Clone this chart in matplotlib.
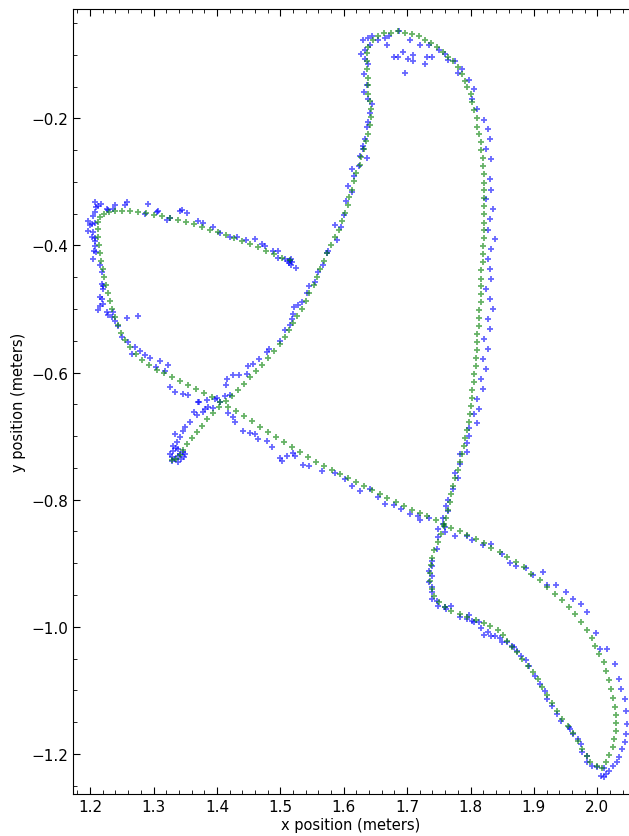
import matplotlib
matplotlib.use("Agg")
import matplotlib.pyplot as plt
from matplotlib.ticker import MultipleLocator

# filtered track (green)
arm_x = [1.515, 1.502, 1.490, 1.477, 1.465, 1.452, 1.439, 1.427, 1.414, 1.402,
         1.389, 1.376, 1.364, 1.351, 1.339, 1.326, 1.313, 1.301, 1.288, 1.276,
         1.263, 1.250, 1.239, 1.230, 1.222, 1.216]
arm_y = [-0.423, -0.419, -0.413, -0.408, -0.403, -0.398, -0.393, -0.388, -0.383, -0.379,
         -0.375, -0.371, -0.367, -0.363, -0.360, -0.357, -0.354, -0.352, -0.349, -0.348,
         -0.346, -0.346, -0.346, -0.348, -0.351, -0.356]

left_x = [1.213, 1.213, 1.213, 1.214, 1.216, 1.217, 1.220, 1.222, 1.225, 1.228,
          1.232, 1.235, 1.239, 1.244, 1.249, 1.255, 1.263, 1.272, 1.282, 1.293, 1.306]
left_y = [-0.363, -0.374, -0.387, -0.400, -0.412, -0.425, -0.437, -0.450, -0.463, -0.475,
          -0.488, -0.500, -0.513, -0.525, -0.538, -0.549, -0.560, -0.571, -0.580, -0.588, -0.596]

diag_x = [1.317, 1.329, 1.342, 1.354, 1.367, 1.380, 1.392, 1.405, 1.417, 1.430,
          1.443, 1.455, 1.468, 1.480, 1.493, 1.506, 1.518, 1.531, 1.543, 1.556,
          1.569, 1.581, 1.594, 1.606, 1.619, 1.632, 1.644, 1.657, 1.669, 1.682,
          1.695, 1.707, 1.720, 1.732, 1.745, 1.758, 1.770, 1.783, 1.795, 1.808,
          1.821, 1.833, 1.846, 1.858, 1.871, 1.884, 1.896, 1.909, 1.921, 1.934,
          1.945, 1.956, 1.965, 1.975, 1.983, 1.991, 1.997, 2.003, 2.010, 2.014,
          2.019, 2.022, 2.025, 2.028, 2.030, 2.030, 2.030, 2.027, 2.024, 2.019,
          2.014, 2.008]
diag_y = [-0.601, -0.607, -0.613, -0.620, -0.626, -0.632, -0.639, -0.647, -0.654, -0.661,
          -0.669, -0.676, -0.686, -0.694, -0.702, -0.709, -0.717, -0.725, -0.733, -0.741,
          -0.747, -0.753, -0.760, -0.766, -0.772, -0.779, -0.785, -0.791, -0.797, -0.804,
          -0.810, -0.816, -0.821, -0.826, -0.832, -0.838, -0.845, -0.849, -0.856, -0.862,
          -0.868, -0.876, -0.882, -0.890, -0.898, -0.906, -0.917, -0.926, -0.937, -0.948,
          -0.958, -0.969, -0.980, -0.992, -1.005, -1.017, -1.030, -1.043, -1.055, -1.069,
          -1.083, -1.098, -1.112, -1.126, -1.138, -1.151, -1.164, -1.176, -1.189, -1.201,
          -1.212, -1.222]

back_x = [1.999, 1.989, 1.983, 1.976, 1.969, 1.961, 1.953, 1.945, 1.937, 1.929,
          1.921, 1.913, 1.906, 1.898, 1.890, 1.882, 1.874, 1.866, 1.858, 1.852,
          1.843, 1.831, 1.821, 1.808, 1.795, 1.783, 1.770, 1.759, 1.750, 1.743,
          1.739, 1.736, 1.736, 1.737, 1.740, 1.743, 1.748, 1.753, 1.758, 1.761,
          1.764, 1.767, 1.770, 1.773, 1.776, 1.780, 1.783, 1.786, 1.789, 1.792,
          1.794, 1.797, 1.799, 1.800, 1.802, 1.803, 1.805, 1.806, 1.808, 1.808,
          1.810, 1.811, 1.811, 1.813, 1.814, 1.814, 1.816, 1.816, 1.817, 1.817,
          1.817, 1.819, 1.819, 1.819, 1.821, 1.821, 1.821, 1.821, 1.821, 1.821]
back_y = [-1.219, -1.212, -1.203, -1.192, -1.179, -1.167, -1.156, -1.145, -1.132, -1.120,
          -1.107, -1.094, -1.082, -1.071, -1.061, -1.050, -1.039, -1.032, -1.022, -1.013,
          -1.005, -0.999, -0.994, -0.989, -0.984, -0.980, -0.975, -0.969, -0.961, -0.951,
          -0.940, -0.928, -0.915, -0.903, -0.892, -0.879, -0.867, -0.854, -0.841, -0.829,
          -0.816, -0.804, -0.791, -0.779, -0.766, -0.753, -0.741, -0.728, -0.716, -0.703,
          -0.690, -0.678, -0.665, -0.653, -0.640, -0.628, -0.615, -0.602, -0.590, -0.577,
          -0.565, -0.552, -0.540, -0.527, -0.514, -0.502, -0.489, -0.477, -0.464, -0.452,
          -0.439, -0.426, -0.414, -0.401, -0.389, -0.376, -0.364, -0.351, -0.338, -0.326]

top_x = [1.821, 1.821, 1.821, 1.819, 1.819, 1.817, 1.816, 1.814, 1.811, 1.810,
         1.806, 1.803, 1.800, 1.795, 1.792, 1.786, 1.780, 1.773, 1.765, 1.756,
         1.747, 1.737, 1.728, 1.718, 1.707, 1.696, 1.685, 1.674, 1.663, 1.654,
         1.646, 1.639, 1.636, 1.636, 1.636, 1.638, 1.638, 1.639, 1.641, 1.643, 1.643]
top_y = [-0.313, -0.301, -0.288, -0.275, -0.263, -0.250, -0.238, -0.225, -0.213, -0.200,
         -0.187, -0.175, -0.162, -0.151, -0.142, -0.131, -0.120, -0.110, -0.103, -0.095,
         -0.087, -0.081, -0.076, -0.071, -0.068, -0.065, -0.063, -0.065, -0.066, -0.071,
         -0.077, -0.087, -0.098, -0.110, -0.123, -0.136, -0.148, -0.161, -0.173, -0.186, -0.198]

branch_x = [1.641, 1.638, 1.635, 1.632, 1.628, 1.625, 1.620, 1.617, 1.613, 1.609,
            1.606, 1.602, 1.597, 1.592, 1.586, 1.580, 1.573, 1.569, 1.562, 1.558,
            1.553, 1.546, 1.540, 1.534, 1.526, 1.520, 1.513, 1.507, 1.499, 1.490,
            1.480, 1.471, 1.461, 1.452, 1.443, 1.433, 1.424, 1.414, 1.403, 1.394,
            1.384, 1.376, 1.369, 1.361, 1.353, 1.346, 1.342, 1.335, 1.329]
branch_y = [-0.211, -0.224, -0.236, -0.249, -0.261, -0.274, -0.286, -0.299, -0.312, -0.324,
            -0.337, -0.349, -0.362, -0.375, -0.387, -0.400, -0.412, -0.425, -0.437, -0.450,
            -0.463, -0.475, -0.488, -0.500, -0.511, -0.522, -0.533, -0.544, -0.555, -0.566,
            -0.577, -0.588, -0.598, -0.607, -0.618, -0.628, -0.637, -0.645, -0.654, -0.664,
            -0.673, -0.684, -0.694, -0.703, -0.713, -0.722, -0.730, -0.736, -0.737]

# raw measurements (blue)
m_arm_x = [1.345, 1.353, 1.370, 1.378, 1.394, 1.405, 1.420, 1.431, 1.446, 1.460,
           1.471, 1.476, 1.488, 1.496, 1.496, 1.507, 1.515, 1.517, 1.524, 1.326,
           1.512, 1.517, 1.513, 1.518,
           1.208, 1.217, 1.213, 1.209, 1.227, 1.239, 1.255, 1.258, 1.236, 1.228,
           1.287, 1.307, 1.291, 1.342, 1.321, 1.306]
m_arm_y = [-0.345, -0.349, -0.362, -0.364, -0.371, -0.381, -0.387, -0.387, -0.392, -0.390,
           -0.397, -0.401, -0.409, -0.409, -0.420, -0.422, -0.425, -0.430, -0.436, -0.357,
           -0.425, -0.422, -0.428, -0.426,
           -0.332, -0.335, -0.338, -0.340, -0.342, -0.337, -0.337, -0.332, -0.343, -0.345,
           -0.351, -0.346, -0.335, -0.346, -0.360, -0.348]

m_left_x = [1.208, 1.205, 1.197, 1.203, 1.208, 1.200, 1.197, 1.205, 1.203, 1.208,
            1.208, 1.208, 1.206, 1.209, 1.205, 1.216, 1.219, 1.219, 1.220, 1.220,
            1.216, 1.219, 1.220, 1.216, 1.213, 1.227, 1.236, 1.228, 1.235, 1.239,
            1.244, 1.258, 1.276,
            1.250, 1.260, 1.271, 1.279, 1.266, 1.287, 1.294, 1.310, 1.304, 1.318, 1.323]
m_left_y = [-0.348, -0.354, -0.362, -0.367, -0.364, -0.368, -0.378, -0.379, -0.387, -0.389,
            -0.393, -0.401, -0.409, -0.411, -0.422, -0.431, -0.442, -0.461, -0.464, -0.469,
            -0.481, -0.485, -0.492, -0.496, -0.502, -0.505, -0.505, -0.510, -0.513, -0.519,
            -0.527, -0.514, -0.511,
            -0.544, -0.552, -0.560, -0.566, -0.571, -0.573, -0.577, -0.582, -0.592, -0.598, -0.588]

m_diag_x = [1.326, 1.334, 1.346, 1.354, 1.372, 1.384, 1.397, 1.394, 1.417, 1.425,
            1.428, 1.441, 1.452, 1.460, 1.465, 1.479, 1.487, 1.499, 1.502, 1.510,
            1.520, 1.523, 1.535, 1.546,
            1.565, 1.586, 1.602, 1.613, 1.625, 1.641, 1.654, 1.665, 1.680, 1.691, 1.704, 1.717,
            1.720, 1.734, 1.776, 1.794, 1.802, 1.819, 1.833, 1.849, 1.863, 1.872,
            1.888, 1.898, 1.915, 1.920, 1.935, 1.951, 1.961, 1.975, 1.984, 1.998,
            2.005, 2.016, 2.028]
m_diag_y = [-0.623, -0.631, -0.634, -0.636, -0.647, -0.643, -0.642, -0.656, -0.664, -0.670,
            -0.678, -0.692, -0.695, -0.697, -0.705, -0.708, -0.717, -0.735, -0.739, -0.731,
            -0.727, -0.731, -0.746, -0.747,
            -0.755, -0.758, -0.768, -0.779, -0.786, -0.783, -0.796, -0.807, -0.808, -0.815, -0.823, -0.826,
            -0.832, -0.829, -0.857, -0.857, -0.864, -0.871, -0.870, -0.886, -0.900, -0.904,
            -0.908, -0.919, -0.914, -0.934, -0.934, -0.945, -0.956, -0.964, -0.977, -1.010,
            -1.035, -1.035, -1.058]

m_loop_x = [2.035, 2.038, 2.043, 2.046, 2.047, 2.046, 2.044, 2.039, 2.035, 2.031,
            2.024, 2.019, 2.014, 2.011, 2.006, 2.011,
            1.992, 2.000, 1.984, 1.983, 1.976, 1.975, 1.969, 1.961, 1.957, 1.956,
            1.943, 1.937, 1.929, 1.921, 1.917, 1.909, 1.901, 1.893, 1.888, 1.880,
            1.874, 1.869, 1.865, 1.858, 1.850, 1.846, 1.839, 1.833, 1.822, 1.827,
            1.817, 1.813, 1.806, 1.802, 1.795, 1.797, 1.783, 1.770, 1.762, 1.759,
            1.748, 1.747, 1.740, 1.739, 1.739, 1.735, 1.739, 1.735, 1.740, 1.740,
            1.747, 1.748, 1.759, 1.748, 1.759, 1.756, 1.756, 1.764, 1.762, 1.764,
            1.772, 1.780, 1.776, 1.783, 1.783, 1.794, 1.795, 1.798, 1.798, 1.811]
m_loop_y = [-1.082, -1.098, -1.114, -1.132, -1.153, -1.169, -1.181, -1.192, -1.205, -1.213,
            -1.219, -1.227, -1.231, -1.236, -1.235, -1.222,
            -1.219, -1.220, -1.213, -1.203, -1.197, -1.184, -1.176, -1.169, -1.161, -1.158,
            -1.148, -1.137, -1.125, -1.114, -1.101, -1.090, -1.077, -1.062, -1.052, -1.046,
            -1.038, -1.032, -1.030, -1.024, -1.024, -1.018, -1.014, -1.014, -1.013, -1.008,
            -1.002, -0.992, -0.992, -0.991, -0.988, -0.981, -0.985, -0.967, -0.972, -0.969,
            -0.967, -0.959, -0.956, -0.945, -0.937, -0.930, -0.920, -0.912, -0.904, -0.897,
            -0.878, -0.859, -0.851, -0.846, -0.843, -0.838, -0.829, -0.818, -0.810, -0.801,
            -0.783, -0.766, -0.758, -0.744, -0.728, -0.725, -0.711, -0.700, -0.687, -0.680]

m_right_x = [1.806, 1.814, 1.811, 1.820, 1.817, 1.824, 1.820, 1.827, 1.822, 1.830,
             1.827, 1.835, 1.830, 1.824, 1.833, 1.830, 1.827, 1.833, 1.838, 1.827,
             1.830, 1.835, 1.825, 1.833, 1.830, 1.833, 1.825, 1.830, 1.827, 1.822,
             1.811, 1.802, 1.806, 1.798, 1.786, 1.775, 1.759, 1.751, 1.735, 1.720, 1.704]
m_right_y = [-0.665, -0.658, -0.642, -0.626, -0.610, -0.595, -0.579, -0.563, -0.547, -0.532,
             -0.516, -0.500, -0.485, -0.469, -0.453, -0.437, -0.422, -0.406, -0.390, -0.375,
             -0.359, -0.343, -0.327, -0.312, -0.296, -0.264, -0.249, -0.233, -0.217, -0.202,
             -0.186, -0.170, -0.154, -0.139, -0.123, -0.110, -0.099, -0.092, -0.084, -0.084, -0.076]

m_top_x = [1.668, 1.680, 1.685, 1.693, 1.701, 1.709, 1.709, 1.731, 1.729, 1.696, 1.739, 1.765, 1.780,
           1.630, 1.638, 1.644, 1.654, 1.665, 1.672, 1.688, 1.641, 1.633, 1.628, 1.633, 1.638,
           1.632, 1.636, 1.632, 1.638, 1.644]
m_top_y = [-0.085, -0.103, -0.103, -0.095, -0.107, -0.101, -0.110, -0.103, -0.115, -0.128, -0.104, -0.109, -0.128,
           -0.076, -0.073, -0.070, -0.076, -0.073, -0.071, -0.063, -0.084, -0.092, -0.099, -0.107, -0.115,
           -0.131, -0.147, -0.158, -0.170, -0.178]

m_branch_x = [1.641, 1.639, 1.636, 1.633, 1.630, 1.630, 1.625, 1.636, 1.624, 1.613,
              1.616, 1.606, 1.613, 1.603, 1.600, 1.587, 1.595, 1.589, 1.575, 1.573,
              1.568, 1.559, 1.554, 1.546, 1.542, 1.534, 1.528, 1.521, 1.520, 1.518,
              1.515, 1.507, 1.499, 1.482, 1.479, 1.466, 1.457, 1.449, 1.447, 1.435,
              1.425, 1.416, 1.414, 1.420, 1.413, 1.400, 1.405, 1.386, 1.381, 1.378,
              1.370, 1.364, 1.369, 1.357, 1.350, 1.346, 1.334, 1.342, 1.337, 1.331,
              1.339, 1.346]
m_branch_y = [-0.191, -0.206, -0.213, -0.233, -0.244, -0.249, -0.260, -0.263, -0.275, -0.280,
              -0.290, -0.307, -0.316, -0.330, -0.352, -0.368, -0.371, -0.392, -0.409, -0.412,
              -0.431, -0.442, -0.458, -0.464, -0.475, -0.489, -0.494, -0.497, -0.508, -0.516,
              -0.525, -0.533, -0.551, -0.563, -0.568, -0.579, -0.587, -0.590, -0.603, -0.604,
              -0.604, -0.610, -0.620, -0.636, -0.637, -0.640, -0.647, -0.654, -0.658, -0.662,
              -0.647, -0.662, -0.667, -0.678, -0.686, -0.692, -0.697, -0.702, -0.709, -0.716,
              -0.720, -0.725]

m_end_x = [1.326, 1.329, 1.334, 1.339, 1.342, 1.331, 1.335, 1.343, 1.348, 1.329, 1.339, 1.350]
m_end_y = [-0.728, -0.733, -0.736, -0.731, -0.728, -0.724, -0.719, -0.736, -0.733, -0.739, -0.741, -0.728]


def main():
    track_x = arm_x + left_x + diag_x + back_x + top_x + branch_x
    track_y = arm_y + left_y + diag_y + back_y + top_y + branch_y
    meas_x = m_arm_x + m_left_x + m_diag_x + m_loop_x + m_right_x + m_top_x + m_branch_x + m_end_x
    meas_y = m_arm_y + m_left_y + m_diag_y + m_loop_y + m_right_y + m_top_y + m_branch_y + m_end_y

    fig = plt.figure(figsize=(6.29, 8.37), dpi=100)
    ax = fig.add_axes([73 / 629, 42 / 837, 556 / 629, 785 / 837])

    ax.plot(meas_x, meas_y, '+', color='blue', alpha=0.6, ms=4, mew=1.3)
    ax.plot(track_x, track_y, '+', color='green', alpha=0.6, ms=4, mew=1.3)

    ax.set_xlim(1.173, 2.05)
    ax.set_ylim(-1.263, -0.028)
    ax.xaxis.set_major_locator(MultipleLocator(0.1))
    ax.xaxis.set_minor_locator(MultipleLocator(0.02))
    ax.yaxis.set_major_locator(MultipleLocator(0.2))
    ax.yaxis.set_minor_locator(MultipleLocator(0.05))
    ax.spines['right'].set_visible(False)
    ax.tick_params(which='both', direction='in', top=True, right=False, labelsize=11)
    ax.tick_params(which='major', length=5)
    ax.tick_params(which='minor', length=3)

    ax.set_xlabel("x position (meters)", fontsize=10.5, labelpad=2)
    ax.set_ylabel("y position (meters)", fontsize=10.5)

    fig.savefig("out.png", dpi=100)


if __name__ == '__main__':
    main()
